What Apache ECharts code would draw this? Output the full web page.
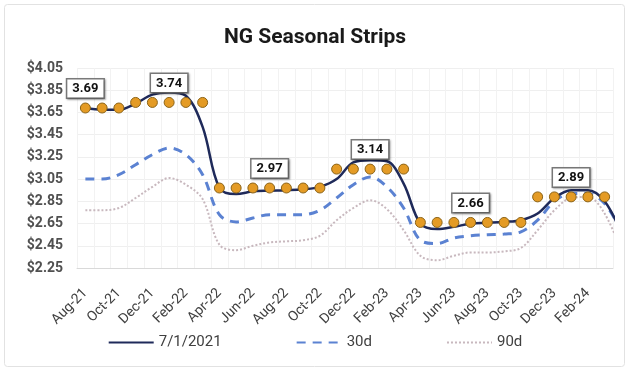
<!DOCTYPE html>
<html>
<head>
<meta charset="utf-8">
<script src="https://cdn.jsdelivr.net/npm/echarts@6/dist/echarts.min.js"></script>
<style>
  html, body { margin: 0; padding: 0; background: #fff; }
  #main { width: 630px; height: 372px; }
</style>
</head>
<body>
<div id="main"></div>
<script>
// months on the axis (strip dots sit on these)
var months = ['Aug-21','Sep-21','Oct-21','Nov-21','Dec-21','Jan-22','Feb-22','Mar-22',
  'Apr-22','May-22','Jun-22','Jul-22','Aug-22','Sep-22','Oct-22',
  'Nov-22','Dec-22','Jan-23','Feb-23','Mar-23',
  'Apr-23','May-23','Jun-23','Jul-23','Aug-23','Sep-23','Oct-23',
  'Nov-23','Dec-23','Jan-24','Feb-24','Mar-24'];

// forward curves, one value per month (last one is Apr-24, runs off the plot)
var curve0701 = [3.69,3.675,3.675,3.73,3.81,3.83,3.80,3.52,
  2.97,2.915,2.94,2.946,2.95,2.958,2.98,
  3.05,3.20,3.22,3.21,3.01,
  2.65,2.60,2.62,2.65,2.657,2.665,2.68,
  2.74,2.88,2.95,2.95,2.85,2.56];
var curve30d = [3.05,3.05,3.09,3.18,3.27,3.33,3.27,3.09,
  2.73,2.665,2.70,2.73,2.73,2.73,2.77,
  2.88,3.00,3.07,2.98,2.79,
  2.50,2.47,2.52,2.54,2.55,2.555,2.575,
  2.68,2.85,2.92,2.92,2.83,2.58];
var curve90d = [2.77,2.77,2.79,2.88,2.98,3.06,3.00,2.87,
  2.46,2.41,2.45,2.48,2.49,2.50,2.54,
  2.68,2.79,2.86,2.78,2.59,
  2.36,2.32,2.36,2.39,2.39,2.40,2.43,
  2.59,2.77,2.88,2.89,2.74,2.40];

// seasonal strip averages
var strips = [3.69,3.69,3.69,3.74,3.74,3.74,3.74,3.74,
  2.97,2.97,2.97,2.97,2.97,2.97,2.97,
  3.14,3.14,3.14,3.14,3.14,
  2.66,2.66,2.66,2.66,2.66,2.66,2.66,
  2.89,2.89,2.89,2.89,2.89];
var labelAt = [0, 5, 11, 17, 23, 29];

var chart = echarts.init(document.getElementById('main'), null, { renderer: 'canvas' });

function toXY(arr) {
  return arr.map(function (v, i) { return [i, v]; });
}

var stripData = strips.map(function (v, i) {
  if (labelAt.indexOf(i) >= 0) {
    return { value: v, label: { show: true } };
  }
  return v;
});

var option = {
  backgroundColor: '#ffffff',
  animation: false,
  textStyle: { fontFamily: 'Roboto' },
  graphic: [{
    type: 'rect',
    shape: { x: 4.5, y: 4.5, width: 620, height: 362, r: 3 },
    style: { fill: 'none', stroke: '#e2e2e2', lineWidth: 1 },
    silent: true
  }],
  title: {
    text: 'NG Seasonal Strips',
    left: 'center',
    top: 22,
    textStyle: { fontSize: 21, fontWeight: 'bold', color: '#1a1a1a', fontFamily: 'Roboto' }
  },
  legend: {
    data: ['7/1/2021', '30d', '90d'],
    bottom: 17,
    left: 'center',
    itemWidth: 45,
    itemHeight: 10,
    itemGap: 74,
    itemStyle: { opacity: 0 },
    textStyle: { fontSize: 15, color: '#404040', fontFamily: 'Roboto' }
  },
  grid: { left: 77, right: 17, top: 68, bottom: 104 },
  xAxis: [{
    type: 'category',
    data: months,
    boundaryGap: true,
    axisLine: { lineStyle: { color: '#d9d9d9' } },
    axisTick: { show: false },
    axisLabel: {
      interval: 1,
      rotate: 45,
      margin: 23,
      fontSize: 14,
      color: '#404040',
      fontFamily: 'Roboto'
    },
    splitLine: { show: true, interval: 0, lineStyle: { color: '#f2f2f2' } }
  }, {
    type: 'value',
    min: -0.5,
    max: 31.5,
    show: false
  }],
  yAxis: {
    type: 'value',
    min: 2.25,
    max: 4.05,
    interval: 0.2,
    axisLine: { show: false },
    axisTick: { show: false },
    splitLine: { lineStyle: { color: '#efefef' } },
    axisLabel: {
      margin: 14,
      fontSize: 14,
      fontWeight: 'bold',
      color: '#505050',
      fontFamily: 'Roboto',
      formatter: function (v) { return '$' + v.toFixed(2); }
    }
  },
  series: [{
    name: '90d',
    type: 'line',
    xAxisIndex: 1,
    data: toXY(curve90d),
    smooth: 0.35,
    symbol: 'none',
    clip: true,
    lineStyle: { color: '#c8b8be', width: 2, type: [2, 2] },
    itemStyle: { color: '#c8b8be' },
    z: 2
  }, {
    name: '30d',
    type: 'line',
    xAxisIndex: 1,
    data: toXY(curve30d),
    smooth: 0.35,
    symbol: 'none',
    clip: true,
    lineStyle: { color: '#5b82d2', width: 3, type: [9, 7] },
    itemStyle: { color: '#5b82d2' },
    z: 3
  }, {
    name: '7/1/2021',
    type: 'line',
    xAxisIndex: 1,
    data: toXY(curve0701),
    smooth: 0.35,
    symbol: 'none',
    clip: true,
    lineStyle: { color: '#1f2a5a', width: 2.5 },
    itemStyle: { color: '#1f2a5a' },
    z: 4
  }, {
    name: 'Strip',
    type: 'line',
    xAxisIndex: 0,
    data: stripData,
    symbol: 'circle',
    symbolSize: 10,
    lineStyle: { width: 0, opacity: 0 },
    itemStyle: { color: '#e49b25', borderColor: '#8c6418', borderWidth: 1 },
    label: {
      show: false,
      position: 'top',
      distance: 5,
      formatter: function (p) { return p.value.toFixed(2); },
      backgroundColor: '#ffffff',
      borderColor: '#7a7a7a',
      borderWidth: 1.5,
      padding: [3, 5, 2, 5],
      fontSize: 13,
      fontWeight: 'bold',
      color: '#111',
      fontFamily: 'Roboto',
      shadowColor: 'rgba(0,0,0,0.3)',
      shadowBlur: 2,
      shadowOffsetX: 1,
      shadowOffsetY: 1
    },
    z: 5
  }]
};

chart.setOption(option);
</script>
</body>
</html>
